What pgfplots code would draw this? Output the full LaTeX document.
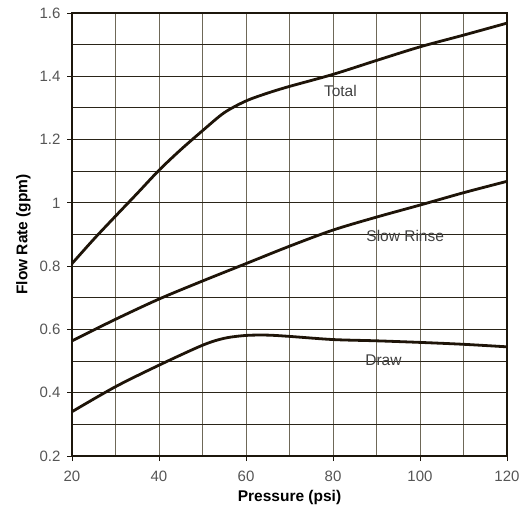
\documentclass[border=0pt]{standalone}
\usepackage{pgfplots}
\pgfplotsset{compat=1.18}
\usepackage{fontspec}
\setmainfont{Liberation Sans}
\definecolor{frame}{HTML}{1C160C}
\definecolor{vgrid}{HTML}{6E6858}
\definecolor{hgrid}{HTML}{2A2418}
\definecolor{ticklab}{HTML}{555555}
\definecolor{curve}{HTML}{1E1408}
\begin{document}
\begin{tikzpicture}
\begin{axis}[
  scale only axis,
  width=435pt, height=443pt,
  xmin=20, xmax=120, ymin=0.2, ymax=1.6,
  xtick={20,40,...,120},
  ytick={0.2,0.4,...,1.6},
  yticklabels={0.2,0.4,0.6,0.8,1,1.2,1.4,1.6},
  minor x tick num=1, minor y tick num=1,
  grid=both,
  major x grid style={vgrid, line width=1pt},
  minor x grid style={vgrid, line width=1pt},
  major y grid style={hgrid, line width=0.9pt},
  minor y grid style={hgrid, line width=0.9pt},
  axis line style={frame, line width=2pt},
  tick align=outside,
  major tick length=5pt,
  minor tick length=0pt,
  tick style={frame, line width=0.8pt},
  xtick pos=bottom, ytick pos=left,
  /pgf/number format/assume math mode=true,
  ticklabel style={font=\fontsize{15}{17}\selectfont, text=ticklab},
  xticklabel style={yshift=-6pt},
  yticklabel style={xshift=-3pt},
  xlabel={\textbf{Pressure (psi)}},
  ylabel={\textbf{Flow Rate (gpm)}},
  label style={font=\fontsize{15.5}{17}\selectfont, text=black},
  xlabel style={yshift=-2pt},
  ylabel style={yshift=2pt},
]
\addplot[curve, line width=2.8pt, smooth] coordinates {
 (20,0.808) (25,0.885) (30,0.958) (35,1.030) (40,1.103) (45,1.168) (50,1.228)
 (55,1.285) (60,1.322) (65,1.347) (70,1.368) (80,1.406) (90,1.450) (100,1.493) (110,1.530) (120,1.568)};
\addplot[curve, line width=2.8pt, smooth] coordinates {
 (20,0.564) (30,0.632) (40,0.696) (50,0.753) (60,0.808) (70,0.863) (80,0.914) (90,0.955) (100,0.993) (110,1.032) (120,1.068)};
\addplot[curve, line width=2.8pt, smooth] coordinates {
 (20,0.340) (30,0.419) (40,0.487) (50,0.550) (55,0.572) (60,0.581) (65,0.582) (70,0.578) (80,0.568) (90,0.564) (100,0.559) (110,0.553) (120,0.545)};
\node[text=black!75, font=\fontsize{15.5}{17}\selectfont] at (axis cs:81.7,1.354) {Total};
\node[text=black!75, font=\fontsize{15.5}{17}\selectfont] at (axis cs:96.6,0.896) {Slow Rinse};
\node[text=black!75, font=\fontsize{15.5}{17}\selectfont] at (axis cs:91.6,0.503) {Draw};
\end{axis}
\useasboundingbox ([shift={(-72pt,-65pt)}]current axis.south west) rectangle ([shift={(19pt,13pt)}]current axis.north east);
\end{tikzpicture}
\end{document}
